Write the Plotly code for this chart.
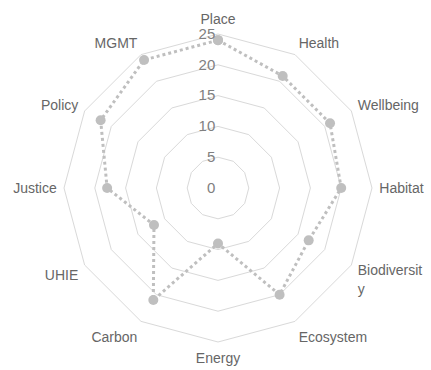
import plotly.graph_objects as go

categories = ["Place", "Health", "Wellbeing", "Habitat", "Biodiversity", "Ecosystem",
              "Energy", "Carbon", "UHIE", "Justice", "Policy", "MGMT"]
category_labels = ["Place", "Health", "Wellbeing", "Habitat", "Biodiversit<br>y", "Ecosystem",
                   "Energy", "Carbon", "UHIE", "Justice", "Policy", "MGMT"]
values = [24, 21, 21, 20, 17, 20, 9, 21, 12, 18, 22, 24]
radial_ticks = [0, 5, 10, 15, 20, 25]

theta = categories + categories[:1]
r = values + values[:1]

fig = go.Figure()
fig.add_trace(go.Scatterpolar(
    r=r, theta=theta, mode="lines+markers",
    line=dict(color="#bfbfbf", width=3, dash="dot"),
    marker=dict(color="#bfbfbf", size=10),
    showlegend=False,
))

font_family = "Liberation Sans, Arial, sans-serif"
fig.update_layout(
    width=431, height=370,
    margin=dict(l=64, r=59, t=34, b=28),
    paper_bgcolor="white",
    plot_bgcolor="white",
    font=dict(family=font_family, size=14, color="#666666"),
    polar=dict(
        bgcolor="white",
        gridshape="linear",
        domain=dict(x=[0, 1], y=[0, 1]),
        angularaxis=dict(
            rotation=90, direction="clockwise",
            categoryorder="array", categoryarray=categories,
            tickmode="array", tickvals=categories, ticktext=category_labels,
            showgrid=False, showline=True, linecolor="#d9d9d9", linewidth=1,
            ticks="outside", ticklen=4, tickcolor="rgba(0,0,0,0)",
            tickfont=dict(size=14, color="#666666"),
        ),
        radialaxis=dict(
            range=[0, 25], tickvals=radial_ticks, angle=90, tickangle=90,
            showline=False, ticks="", gridcolor="#d9d9d9", gridwidth=1,
            tickfont=dict(size=15, color="#808080"), side="counterclockwise",
        ),
    ),
)

fig.write_html("out.html")
